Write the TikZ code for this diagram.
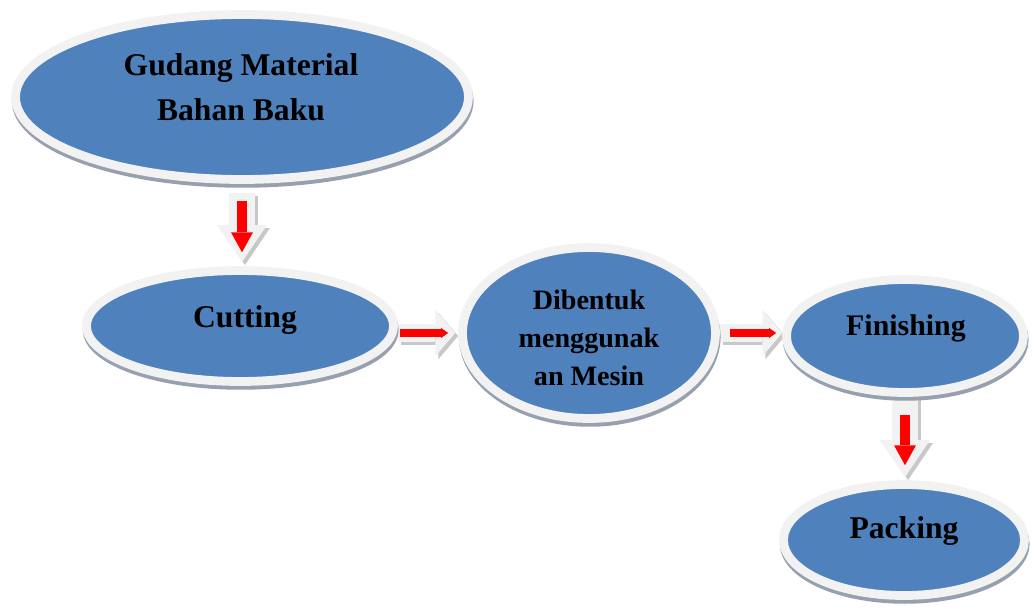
\documentclass[tikz,border=0pt]{standalone}
\usepackage{fontspec}
\setmainfont{Liberation Serif}
\usepackage{xcolor}
\usetikzlibrary{arrows.meta,shapes.geometric,backgrounds}
\definecolor{biru}{RGB}{79,129,189}
\definecolor{tepi}{RGB}{242,242,242}
\definecolor{bayangan}{RGB}{150,160,175}
\definecolor{panah}{RGB}{200,200,200}

\begin{document}
\begin{tikzpicture}[
  x=0.02cm, y=-0.02cm,
  elips/.style={ellipse, draw=tepi, line width=5pt, fill=biru, inner sep=0pt,
    preaction={draw=bayangan, line width=5pt, transform canvas={shift={(0.4pt,-2.2pt)}}}},
  teks/.style={font=\bfseries\fontsize{18}{25.5}\selectfont, align=center, inner sep=0pt},
  blokv/.style={draw=tepi, line width=14.7pt, -{Triangle[length=21pt, width=28.3pt, line width=0pt]}},
  blokh/.style={draw=tepi, line width=10.2pt, -{Triangle[length=11.3pt, width=26.6pt, line width=0pt]}},
  bayang/.style={draw=panah, transform canvas={shift={(1.7pt,-1.7pt)}}},
  merahv/.style={draw=red, line width=5.7pt, -{Triangle[length=11.3pt, width=12.5pt, line width=0pt]}},
  merahh/.style={draw=red, line width=4pt, -{Triangle[length=4pt, width=5.7pt, line width=0pt]}}]
\useasboundingbox (0,0) rectangle (1034,611);

\node[elips, minimum width=9.06cm, minimum height=3.30cm] (gudang) at (242,97) {};
\node[elips, minimum width=6.14cm, minimum height=2.22cm] (cutting) at (240,326) {};
\node[elips, minimum width=5.06cm, minimum height=3.42cm] (dibentuk) at (589,333) {};
\node[elips, minimum width=4.74cm, minimum height=2.26cm] (finishing) at (905,336) {};
\node[elips, minimum width=4.82cm, minimum height=2.22cm] (packing) at (904,540) {};

\node[teks] (gudang-t) at (241,87) {Gudang Material\\Bahan Baku};
\node[teks] (cutting-t) at (245,320) {Cutting};
\node[teks, font=\bfseries\fontsize{16}{21.8}\selectfont] (dibentuk-t) at (589,338) {Dibentuk\\menggunak\\an Mesin};
\node[teks, font=\bfseries\fontsize{17}{22}\selectfont] (finishing-t) at (906,328) {Finishing};
\node[teks] (packing-t) at (904,531) {Packing};

\begin{scope}[on background layer]
\draw[blokv, bayang, shorten <=5.1pt, shorten >=2.3pt] (gudang.south) -- (gudang.south |- cutting.north);
\draw[blokv, shorten <=5.1pt, shorten >=2.3pt] (gudang.south) -- (gudang.south |- cutting.north);
\draw[blokh, bayang, shorten >=1.7pt] (dibentuk.west -| cutting.east) -- (dibentuk.west);
\draw[blokh, shorten >=1.7pt] (dibentuk.west -| cutting.east) -- (dibentuk.west);
\draw[blokh, bayang] (dibentuk.east) -- (dibentuk.east -| finishing.west);
\draw[blokh] (dibentuk.east) -- (dibentuk.east -| finishing.west);
\draw[blokv, bayang, shorten >=1.7pt] (finishing.south) -- (finishing.south |- packing.north);
\draw[blokv, shorten >=1.7pt] (finishing.south) -- (finishing.south |- packing.north);
\end{scope}

\draw[merahv, shorten <=9.6pt, shorten >=7.9pt] (gudang.south) -- (gudang.south |- cutting.north);
\draw[merahh, shorten <=1.1pt, shorten >=5.7pt] (dibentuk.west -| cutting.east) -- (dibentuk.west);
\draw[merahh, shorten <=5.7pt, shorten >=3.4pt] (dibentuk.east) -- (dibentuk.east -| finishing.west);
\draw[merahv, shorten <=10.2pt, shorten >=8.5pt] (finishing.south) -- (finishing.south |- packing.north);
\end{tikzpicture}
\end{document}
